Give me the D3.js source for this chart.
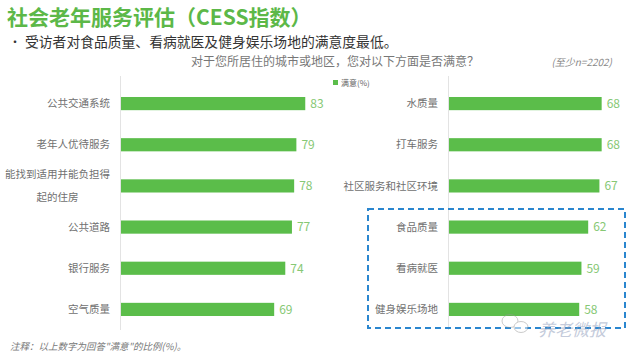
<!DOCTYPE html>
<html>
<head>
<meta charset="utf-8">
<script src="https://cdn.jsdelivr.net/npm/d3@7"></script>
<style>
  body { margin: 0; background: #fff; }
  text { font-family: "Noto Sans CJK SC", "Noto Sans", sans-serif; }
</style>
</head>
<body>
<svg id="chart" width="640" height="356"></svg>
<script>
var leftCats = ['公共交通系统', '老年人优待服务', '能找到适用并能负担得起的住房', '公共道路', '银行服务', '空气质量'];
var leftVals = [83, 79, 78, 77, 74, 69];
var rightCats = ['水质量', '打车服务', '社区服务和社区环境', '食品质量', '看病就医', '健身娱乐场地'];
var rightVals = [68, 68, 67, 62, 59, 58];
var legendLabel = '满意(%)';

var barColor = '#5bbd4a',
    valColor = '#86c874',
    labColor = '#707070';

var svg = d3.select('#chart');

// title + notes
svg.append('text')
    .attr('x', 7).attr('y', 25)
    .attr('fill', '#5cb848')
    .style('font-size', '21px').style('font-weight', 'bold')
    .text('社会老年服务评估（CESS指数）');

svg.append('text')
    .attr('x', 9).attr('y', 47)
    .attr('fill', '#333').style('font-size', '12px')
    .text('•');
svg.append('text')
    .attr('x', 25).attr('y', 47)
    .attr('fill', '#333').style('font-size', '13.8px')
    .text('受访者对食品质量、看病就医及健身娱乐场地的满意度最低。');

svg.append('text')
    .attr('x', 335).attr('y', 66)
    .attr('text-anchor', 'middle')
    .attr('fill', '#777').style('font-size', '12px')
    .text('对于您所居住的城市或地区，您对以下方面是否满意？');

svg.append('text')
    .attr('x', 612).attr('y', 66)
    .attr('text-anchor', 'end')
    .attr('fill', '#888').style('font-size', '10px').style('font-style', 'italic')
    .text('(至少n=2202)');

// legend
svg.append('rect')
    .attr('x', 333).attr('y', 80).attr('width', 5).attr('height', 5)
    .attr('fill', barColor);
svg.append('text')
    .attr('x', 341).attr('y', 86)
    .attr('fill', '#666').style('font-size', '8px')
    .text(legendLabel);

function panel(cats, vals, x0, xMax, labelRight) {
  var x = d3.scaleLinear().domain([0, 100]).range([x0, xMax]);
  var y = d3.scaleBand().domain(cats).range([83, 330])
      .paddingInner(0.68).paddingOuter(0.34);

  var g = svg.append('g');

  g.append('line')
      .attr('x1', x0 - 0.5).attr('x2', x0 - 0.5)
      .attr('y1', 76).attr('y2', 330)
      .attr('stroke', '#e3e3e3');

  g.selectAll('rect.bar')
      .data(vals)
    .enter().append('rect')
      .attr('class', 'bar')
      .attr('x', x(0))
      .attr('y', function(d, i) { return y(cats[i]); })
      .attr('width', function(d) { return x(d) - x(0); })
      .attr('height', y.bandwidth())
      .attr('fill', barColor);

  g.selectAll('text.val')
      .data(vals)
    .enter().append('text')
      .attr('class', 'val')
      .attr('x', function(d) { return x(d) + 5; })
      .attr('y', function(d, i) { return y(cats[i]) + y.bandwidth() / 2; })
      .attr('dy', '0.36em')
      .attr('fill', valColor)
      .style('font-size', '12px')
      .text(function(d) { return d; });

  cats.forEach(function(c) {
    var cy = y(c) + y.bandwidth() / 2;
    if (c.length > 10) {
      var l1 = c.slice(0, 10), l2 = c.slice(10);
      var t = g.append('text')
          .attr('fill', labColor).style('font-size', '10.5px')
          .attr('text-anchor', 'end')
          .attr('x', labelRight).attr('y', cy - 12).attr('dy', '0.35em')
          .text(l1);
      var w = t.node().getComputedTextLength();
      g.append('text')
          .attr('fill', labColor).style('font-size', '10.5px')
          .attr('text-anchor', 'middle')
          .attr('x', labelRight - w / 2).attr('y', cy + 11).attr('dy', '0.35em')
          .text(l2);
    } else {
      g.append('text')
          .attr('fill', labColor).style('font-size', '10.5px')
          .attr('text-anchor', 'end')
          .attr('x', labelRight).attr('y', cy).attr('dy', '0.35em')
          .text(c);
    }
  });

  return y;
}

panel(leftCats, leftVals, 121, 343, 110);
panel(rightCats, rightVals, 449, 673.5, 438);

// highlight box round the three lowest
svg.append('rect')
    .attr('x', 368).attr('y', 209)
    .attr('width', 257).attr('height', 119)
    .attr('fill', 'none')
    .attr('stroke', '#2a86cf')
    .attr('stroke-width', 2)
    .attr('stroke-dasharray', '6,4');

// watermark
var wm = svg.append('g').attr('opacity', 0.5);
wm.append('ellipse').attr('cx', 510).attr('cy', 321).attr('rx', 8).attr('ry', 6.5)
    .attr('fill', 'none').attr('stroke', '#999');
wm.append('ellipse').attr('cx', 521).attr('cy', 327).attr('rx', 7).attr('ry', 5.5)
    .attr('fill', '#fff').attr('stroke', '#999');
wm.append('text')
    .attr('x', 538).attr('y', 336)
    .attr('fill', '#8a98b8').style('font-size', '17px').style('font-style', 'italic')
    .text('养老微报');

svg.append('text')
    .attr('x', 10).attr('y', 350)
    .attr('fill', '#777').style('font-size', '9.5px').style('font-style', 'italic')
    .text('注释：以上数字为回答"满意"的比例(%)。');
</script>
</body>
</html>
